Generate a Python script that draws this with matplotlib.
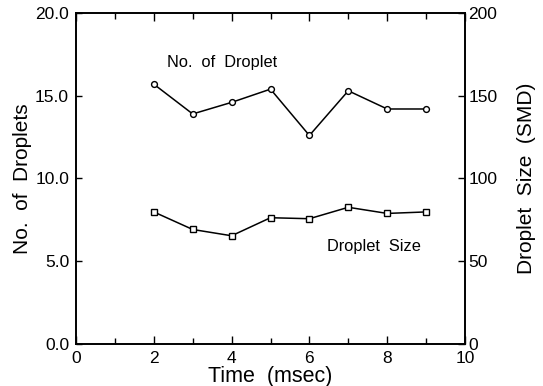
import matplotlib
matplotlib.use("Agg")
import matplotlib.pyplot as plt
from matplotlib.ticker import MultipleLocator

plt.rcParams['font.family'] = ['Liberation Sans', 'DejaVu Sans']

time = [2, 3, 4, 5, 6, 7, 8, 9]
n_droplets = [15.7, 13.9, 14.6, 15.4, 12.6, 15.3, 14.2, 14.2]
droplet_size = [79.8, 69.2, 65.4, 76.3, 75.7, 82.6, 78.9, 79.8]

W, H = 543, 386
L, R, T, B = 76, 465, 13, 344
fig = plt.figure(figsize=(W/100, H/100), dpi=100)
ax = fig.add_axes([L/W, 1-B/H, (R-L)/W, (B-T)/H])
ax2 = ax.twinx()

ax.plot(time, n_droplets, color='black', lw=1.1, marker='o', ms=4.2,
        mfc='white', mec='black', mew=1.0)
ax2.plot(time, droplet_size, color='black', lw=1.1, marker='s', ms=3.8,
         mfc='white', mec='black', mew=1.0)

ax.set_xlim(0, 10)
ax.set_ylim(0, 20)
ax2.set_ylim(0, 200)
ax.xaxis.set_major_locator(MultipleLocator(2))
ax.xaxis.set_minor_locator(MultipleLocator(1))
ax.yaxis.set_major_locator(MultipleLocator(5))
ax2.yaxis.set_major_locator(MultipleLocator(50))
ax.set_yticklabels([f"{v:.1f}" for v in ax.get_yticks()])

ax.tick_params(axis='x', which='both', direction='in', top=True, labelsize=12.5, pad=5)
ax.tick_params(axis='x', which='major', length=6, width=1)
ax.tick_params(axis='x', which='minor', length=4, width=1)
ax.tick_params(axis='y', direction='in', length=4, width=1, labelsize=12.5, pad=5)
ax2.tick_params(axis='y', direction='in', length=5, width=1, labelsize=12.5, pad=2.5)

for a in (ax, ax2):
    for s in a.spines.values():
        s.set_linewidth(1.2)

ax.set_xlabel("Time  (msec)", fontsize=15.5)
ax.xaxis.set_label_coords(0.5, (B-366)/(B-T))
ax.set_ylabel("No.  of  Droplets", fontsize=15)
ax.yaxis.set_label_coords((32-L)/(R-L), 0.5)
ax2.set_ylabel("Droplet  Size  (SMD)", fontsize=15)
ax2.yaxis.set_label_coords((517-L)/(R-L), 0.5)

ax.text(2.33, 17.0, "No.  of  Droplet", fontsize=11.8, va='center')
ax2.text(6.44, 58.9, "Droplet  Size", fontsize=11.8, va='center')

fig.savefig("out.png", dpi=100)
